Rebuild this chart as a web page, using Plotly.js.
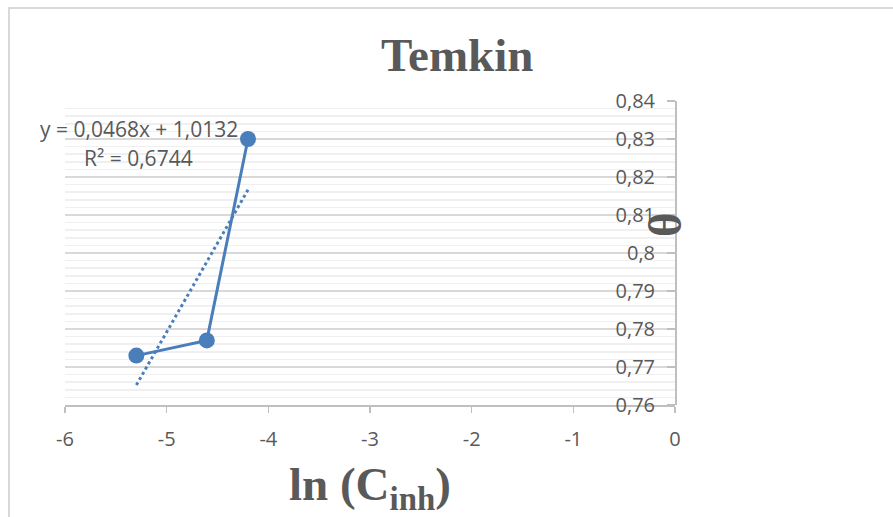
<!DOCTYPE html>
<html>
<head>
<meta charset="utf-8">
<script src="https://cdn.plot.ly/plotly-3.0.1.min.js"></script>
<style>
  html, body { margin: 0; padding: 0; background: #ffffff; overflow: hidden; }
  #wrap { position: relative; width: 893px; height: 517px; }
  #chart { position: absolute; left: 0; top: 0; width: 893px; height: 517px; }
  #frame { position: absolute; left: 8px; top: 7px; width: 1000px; height: 600px;
           border: 2px solid #d9d9d9; pointer-events: none; box-sizing: border-box; }
</style>
</head>
<body>
<div id="wrap">
  <div id="chart"></div>
  <div id="frame"></div>
</div>
<script>
// ---- data ----
const lnC = [-5.298, -4.605, -4.200];          // ln(C_inh)
const theta = [0.773, 0.777, 0.830];           // surface coverage θ
const trendSlope = 0.0468;
const trendIntercept = 1.0132;
const trendR2 = 0.6744;

const xTickVals = [-6, -5, -4, -3, -2, -1, 0];
const xTickText = ['-6', '-5', '-4', '-3', '-2', '-1', '0'];
const yTickVals = [0.76, 0.77, 0.78, 0.79, 0.80, 0.81, 0.82, 0.83, 0.84];
const yTickText = ['0,76', '0,77', '0,78', '0,79', '0,8', '0,81', '0,82', '0,83', '0,84'];

const eqText = 'y = 0,0468x + 1,0132';
const r2Text = 'R² = 0,6744';

// trendline across the data's x extent, from the fitted equation
const trendX = [Math.min(...lnC), Math.max(...lnC)];
const trendY = trendX.map(x => trendSlope * x + trendIntercept);

const blue = '#4a7ebb';
const grey = '#595959';

const traces = [
  {
    x: trendX, y: trendY, type: 'scatter', mode: 'lines',
    line: { color: blue, width: 3, dash: 'dot' },
    hoverinfo: 'skip', showlegend: false
  },
  {
    x: lnC, y: theta, type: 'scatter', mode: 'lines+markers',
    line: { color: blue, width: 3 },
    marker: { color: blue, size: 16 },
    showlegend: false
  }
];

const layout = {
  width: 893, height: 517, autosize: false,
  margin: { l: 65, r: 218, t: 101, b: 112, pad: 0 },
  paper_bgcolor: '#ffffff', plot_bgcolor: '#ffffff',
  showlegend: false,
  title: {
    text: '<b>Temkin</b>',
    font: { family: 'Liberation Serif, Times New Roman, serif', size: 47, color: grey },
    x: 0.512, xref: 'container', xanchor: 'center',
    y: 0.895, yref: 'container', yanchor: 'middle'
  },
  xaxis: {
    range: [-6, 0],
    tickmode: 'array', tickvals: xTickVals, ticktext: xTickText,
    showgrid: false, zeroline: false,
    showline: true, linecolor: '#bfbfbf', linewidth: 1.5,
    ticks: 'outside', ticklen: 6, tickcolor: '#bfbfbf', tickwidth: 1.5,
    ticklabelstandoff: 9,
    tickfont: { family: 'Open Sans, sans-serif', size: 20, color: grey }
  },
  yaxis: {
    range: [0.76, 0.84],
    anchor: 'free', position: 1, side: 'left',
    tickmode: 'array', tickvals: yTickVals, ticktext: yTickText,
    showgrid: true, gridcolor: '#d9d9d9', gridwidth: 1.5,
    minor: { tick0: 0.76, dtick: 0.002, showgrid: true, gridcolor: '#f0f0f0', gridwidth: 1.5, ticks: '' },
    zeroline: false,
    showline: true, linecolor: '#bfbfbf', linewidth: 1.5,
    ticks: 'outside', ticklen: 8, tickcolor: '#bfbfbf', tickwidth: 1.5,
    ticklabelstandoff: 8,
    tickfont: { family: 'Open Sans, sans-serif', size: 20, color: grey }
  },
  annotations: [
    {
      text: eqText, xref: 'paper', yref: 'paper', x: 0.1213, y: 0.908,
      xanchor: 'center', yanchor: 'middle', showarrow: false,
      font: { family: 'Open Sans, sans-serif', size: 21, color: grey }
    },
    {
      text: r2Text, xref: 'paper', yref: 'paper', x: 0.1205, y: 0.8125,
      xanchor: 'center', yanchor: 'middle', showarrow: false,
      font: { family: 'Open Sans, sans-serif', size: 21, color: grey }
    },
    {
      text: '<b>ln (C<sub>inh</sub>)</b>', xref: 'paper', yref: 'paper', x: 0.5, y: -0.27,
      xanchor: 'center', yanchor: 'middle', showarrow: false,
      font: { family: 'Liberation Serif, Times New Roman, serif', size: 47, color: grey }
    },
    {
      text: '<b>θ</b>', xref: 'paper', yref: 'paper', x: 0.9836, y: 0.595,
      xanchor: 'center', yanchor: 'middle', showarrow: false, textangle: -90,
      font: { family: 'Liberation Serif, Times New Roman, serif', size: 47, color: grey }
    }
  ]
};

Plotly.newPlot('chart', traces, layout, { staticPlot: true, displayModeBar: false });
</script>
</body>
</html>
